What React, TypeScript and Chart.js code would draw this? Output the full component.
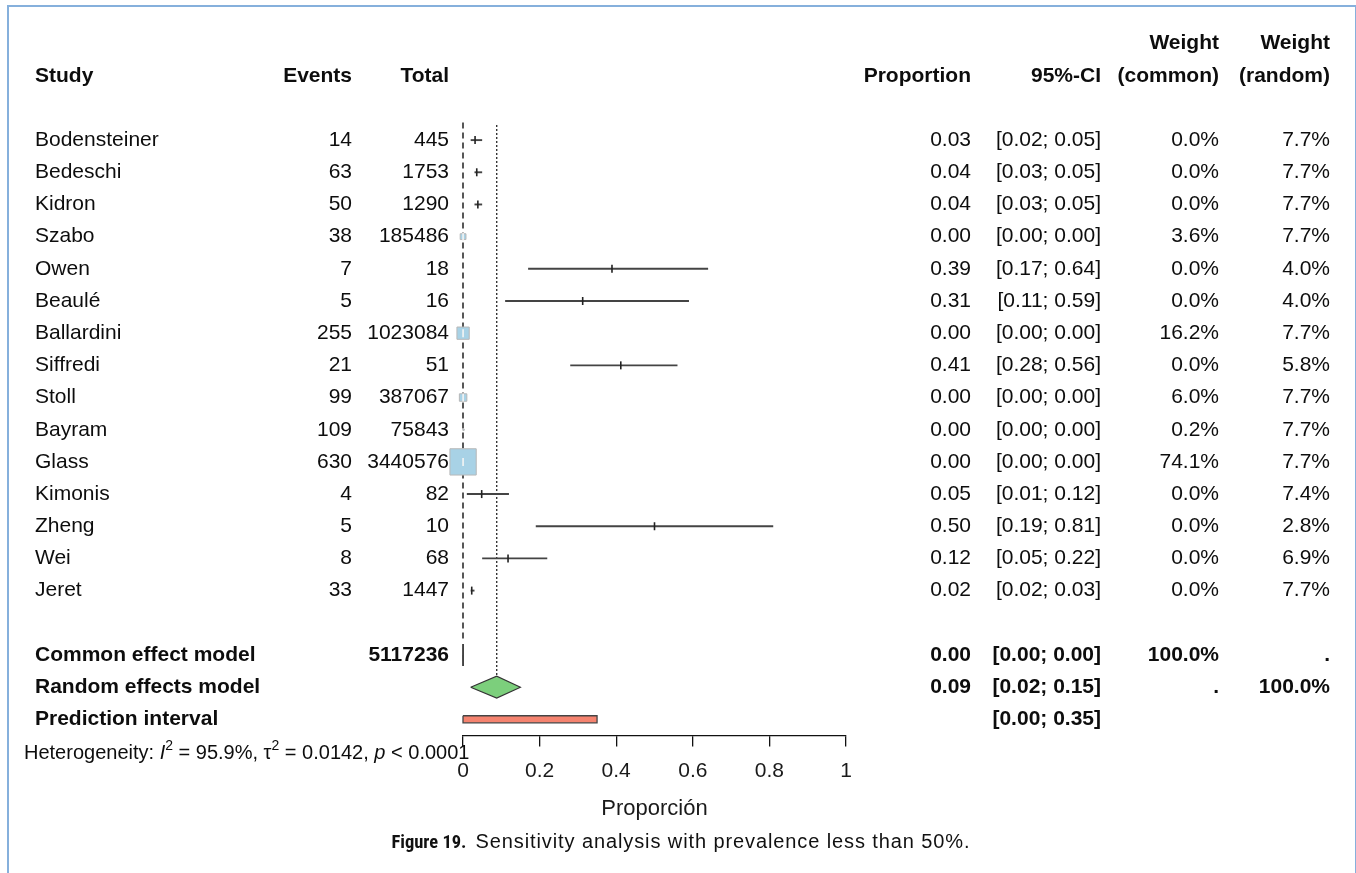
import React, { useEffect, useRef } from "react";
import { Chart, registerables } from "chart.js";

Chart.register(...registerables);

// ---------------- data ----------------
const studies = [
  "Bodensteiner", "Bedeschi", "Kidron", "Szabo", "Owen", "Beaulé", "Ballardini",
  "Siffredi", "Stoll", "Bayram", "Glass", "Kimonis", "Zheng", "Wei", "Jeret",
];
const events = [14, 63, 50, 38, 7, 5, 255, 21, 99, 109, 630, 4, 5, 8, 33];
const totals = [445, 1753, 1290, 185486, 18, 16, 1023084, 51, 387067, 75843, 3440576, 82, 10, 68, 1447];
const proportions = [0.0315, 0.0359, 0.0388, 0.0002, 0.389, 0.3125, 0.0002, 0.412, 0.0003, 0.0014, 0.0002, 0.0488, 0.5, 0.1176, 0.0228];
const ciLower = [0.02, 0.03, 0.03, 0.0, 0.17, 0.11, 0.0, 0.28, 0.0, 0.0, 0.0, 0.01, 0.19, 0.05, 0.02];
const ciUpper = [0.05, 0.05, 0.05, 0.0, 0.64, 0.59, 0.0, 0.56, 0.0, 0.0, 0.0, 0.12, 0.81, 0.22, 0.03];
const weightCommon = [0.0, 0.0, 0.0, 3.6, 0.0, 0.0, 16.2, 0.0, 6.0, 0.2, 74.1, 0.0, 0.0, 0.0, 0.0];
const weightRandom = [7.7, 7.7, 7.7, 7.7, 4.0, 4.0, 7.7, 5.8, 7.7, 7.7, 7.7, 7.4, 2.8, 6.9, 7.7];

const commonTotal = 5117236;
const commonEffect = [0.0002, 0.0, 0.0]; // estimate, lower, upper
const randomEffect = [0.088, 0.02, 0.15];
const predictionInterval = [0.0, 0.35];
const heterogeneity = { i2: "95.9%", tau2: "0.0142", p: "< 0.0001" };

const xTicks = [0, 0.2, 0.4, 0.6, 0.8, 1];
const xTitle = "Proporción";
const caption = "Sensitivity analysis with prevalence less than 50%.";
const captionLabel = "Figure 19.";

// ---------------- layout constants ----------------
const FONT = '"Liberation Sans", Arial, Helvetica, sans-serif';
const ROW_COMMON = 16;
const ROW_RANDOM = 17;
const ROW_PRED = 18;
const COL = {
  study: 35,
  events: 352,
  total: 449,
  prop: 971,
  ci: 1101,
  wCommon: 1219,
  wRandom: 1330,
};

const fmtPct = (v: number) => v.toFixed(1) + "%";
const fmtCI = (lo: number, hi: number) => `[${lo.toFixed(2)}; ${hi.toFixed(2)}]`;

const tablePlugin = {
  id: "forestTable",
  afterDraw(chart: any) {
    const ctx = chart.ctx as CanvasRenderingContext2D;
    const ys = chart.scales.y;
    const y = (r: number) => ys.getPixelForValue(r);
    ctx.save();
    ctx.fillStyle = "#0d0d0d";
    ctx.textBaseline = "middle";
    const txt = (s: string, x: number, r: number, align: CanvasTextAlign, bold = false, size = 21) => {
      ctx.font = `${bold ? "bold " : ""}${size}px ${FONT}`;
      ctx.textAlign = align;
      ctx.fillText(s, x, y(r));
    };
    // headers
    txt("Weight", COL.wCommon, -3, "right", true);
    txt("Weight", COL.wRandom, -3, "right", true);
    txt("Study", COL.study, -2, "left", true);
    txt("Events", COL.events, -2, "right", true);
    txt("Total", COL.total, -2, "right", true);
    txt("Proportion", COL.prop, -2, "right", true);
    txt("95%-CI", COL.ci, -2, "right", true);
    txt("(common)", COL.wCommon, -2, "right", true);
    txt("(random)", COL.wRandom, -2, "right", true);
    // studies
    studies.forEach((s, i) => {
      txt(s, COL.study, i, "left");
      txt(String(events[i]), COL.events, i, "right");
      txt(String(totals[i]), COL.total, i, "right");
      txt(proportions[i].toFixed(2), COL.prop, i, "right");
      txt(fmtCI(ciLower[i], ciUpper[i]), COL.ci, i, "right");
      txt(fmtPct(weightCommon[i]), COL.wCommon, i, "right");
      txt(fmtPct(weightRandom[i]), COL.wRandom, i, "right");
    });
    // summaries
    txt("Common effect model", COL.study, ROW_COMMON, "left", true);
    txt(String(commonTotal), COL.total, ROW_COMMON, "right", true);
    txt(commonEffect[0].toFixed(2), COL.prop, ROW_COMMON, "right", true);
    txt(fmtCI(commonEffect[1], commonEffect[2]), COL.ci, ROW_COMMON, "right", true);
    txt("100.0%", COL.wCommon, ROW_COMMON, "right", true);
    txt(".", COL.wRandom, ROW_COMMON, "right", true);
    txt("Random effects model", COL.study, ROW_RANDOM, "left", true);
    txt(randomEffect[0].toFixed(2), COL.prop, ROW_RANDOM, "right", true);
    txt(fmtCI(randomEffect[1], randomEffect[2]), COL.ci, ROW_RANDOM, "right", true);
    txt(".", COL.wCommon, ROW_RANDOM, "right", true);
    txt("100.0%", COL.wRandom, ROW_RANDOM, "right", true);
    txt("Prediction interval", COL.study, ROW_PRED, "left", true);
    txt(fmtCI(predictionInterval[0], predictionInterval[1]), COL.ci, ROW_PRED, "right", true);

    // heterogeneity line with italics / superscripts
    const base = y(19) + 8;
    let x = 24;
    const piece = (s: string, style: string, size: number, dy = 0) => {
      ctx.font = `${style}${size}px ${FONT}`;
      ctx.textAlign = "left";
      ctx.textBaseline = "alphabetic";
      ctx.fillText(s, x, base + dy);
      x += ctx.measureText(s).width;
    };
    const fs = 20;
    piece("Heterogeneity: ", "", fs);
    piece("I", "italic ", fs);
    piece("2", "", 14, -9);
    piece(" = " + heterogeneity.i2 + ", \u03C4", "", fs);
    piece("2", "", 14, -9);
    piece(" = " + heterogeneity.tau2 + ", ", "", fs);
    piece("p", "italic ", fs);
    piece(" " + heterogeneity.p, "", fs);
    ctx.restore();
  },
};

function polygon(points: { x: number; y: number }[], fill: string, border: string, width: number, order: number) {
  return {
    type: "line",
    data: [...points, points[0]],
    showLine: true,
    borderColor: border,
    borderWidth: width,
    backgroundColor: fill,
    fill: "shape",
    pointRadius: 0,
    tension: 0,
    clip: false,
    order,
  };
}

export default function App() {
  const ref = useRef<HTMLCanvasElement | null>(null);

  useEffect(() => {
    if (!ref.current) return;
    const dh = 0.34; // diamond half-height (rows)
    const ph = 0.11; // prediction bar half-height
    const datasets: any[] = [];

    // reference lines
    datasets.push({
      type: "line",
      data: [{ x: 0, y: -0.55 }, { x: 0, y: 15.6 }],
      borderColor: "#111",
      borderWidth: 1.4,
      borderDash: [6, 4],
      pointRadius: 0,
      fill: false,
      clip: false,
      order: 10,
    });
    datasets.push({
      type: "line",
      data: [{ x: randomEffect[0], y: -0.47 }, { x: randomEffect[0], y: ROW_RANDOM - dh }],
      borderColor: "#333",
      borderWidth: 1.4,
      borderDash: [2, 2],
      pointRadius: 0,
      fill: false,
      clip: false,
      order: 10,
    });

    // CI lines
    studies.forEach((_, i) => {
      datasets.push({
        type: "line",
        data: [{ x: ciLower[i], y: i }, { x: ciUpper[i], y: i }],
        borderColor: "#444",
        borderWidth: 1.9,
        pointRadius: 0,
        fill: false,
        clip: false,
        order: 8,
      });
    });

    // weight squares (common weights)
    const sq = studies.map((_, i) => i).filter((i) => weightCommon[i] > 0);
    datasets.push({
      type: "scatter",
      data: sq.map((i) => ({ x: proportions[i], y: i })),
      pointStyle: "rect",
      pointRadius: sq.map((i) => 18.6 * Math.sqrt(weightCommon[i] / 74.1)),
      pointBackgroundColor: "#a8d2e6",
      pointBorderColor: "#b8b8b8",
      pointBorderWidth: 1,
      clip: false,
      order: 6,
    });

    // point estimate ticks
    datasets.push({
      type: "scatter",
      data: studies.map((_, i) => ({ x: proportions[i], y: i })),
      pointStyle: "line",
      rotation: 90,
      pointRadius: 4,
      pointBorderColor: studies.map((_, i) =>
        weightCommon[i] >= 1 ? "#f4f4f4" : weightCommon[i] > 0 ? "rgba(0,0,0,0)" : "#222"
      ),
      pointBorderWidth: 1.6,
      clip: false,
      order: 4,
    });

    // common effect diamond (degenerate)
    datasets.push(
      polygon(
        [
          { x: commonEffect[1], y: ROW_COMMON },
          { x: commonEffect[0], y: ROW_COMMON - dh },
          { x: commonEffect[2], y: ROW_COMMON },
          { x: commonEffect[0], y: ROW_COMMON + dh },
        ],
        "#a8d2e6",
        "#111",
        1.5,
        2
      )
    );
    // random effects diamond
    datasets.push(
      polygon(
        [
          { x: randomEffect[1], y: ROW_RANDOM },
          { x: randomEffect[0], y: ROW_RANDOM - dh },
          { x: randomEffect[2], y: ROW_RANDOM },
          { x: randomEffect[0], y: ROW_RANDOM + dh },
        ],
        "#7ccf7c",
        "#333",
        1.1,
        2
      )
    );
    // prediction interval bar
    datasets.push(
      polygon(
        [
          { x: predictionInterval[0], y: ROW_PRED - ph },
          { x: predictionInterval[1], y: ROW_PRED - ph },
          { x: predictionInterval[1], y: ROW_PRED + ph },
          { x: predictionInterval[0], y: ROW_PRED + ph },
        ],
        "#f5836f",
        "#444",
        1.3,
        2
      )
    );

    const chart = new Chart(ref.current, {
      type: "line",
      data: { datasets },
      options: {
        animation: false,
        responsive: false,
        devicePixelRatio: 1,
        events: [],
        layout: { autoPadding: false, padding: { left: 463, right: 510, top: 11.4, bottom: 51 } },
        plugins: { legend: { display: false }, tooltip: { enabled: false } },
        scales: {
          x: {
            type: "linear",
            min: 0,
            max: 1,
            afterBuildTicks: (s: any) => {
              s.ticks = xTicks.map((v) => ({ value: v }));
            },
            ticks: {
              color: "#1a1a1a",
              font: { family: FONT, size: 21 },
              padding: 12,
              maxRotation: 0,
              autoSkip: false,
              callback: (v: any) => String(v),
            },
            grid: { drawOnChartArea: false, drawTicks: true, tickLength: 11, color: "#111", lineWidth: 1.3 },
            border: { display: true, color: "#111", width: 1.3 },
            title: {
              display: true,
              text: xTitle,
              color: "#1a1a1a",
              font: { family: FONT, size: 22 },
              padding: { top: 0, bottom: 0 },
            },
          },
          y: { type: "linear", reverse: true, min: -4, max: 18.5, display: false },
        },
      } as any,
      plugins: [tablePlugin],
    });
    return () => chart.destroy();
  }, []);

  return (
    <div style={{ position: "absolute", left: 0, top: 0, width: 1356, height: 873, overflow: "hidden", background: "#fff" }}>
      <div
        style={{
          position: "absolute",
          left: 7,
          top: 5,
          width: 1346,
          height: 900,
          borderLeft: "2px solid #86b0dc",
          borderTop: "2px solid #86b0dc",
          borderRight: "2px solid #86b0dc",
        }}
      />
      <canvas ref={ref} width={1356} height={873} style={{ position: "absolute", left: 0, top: 0, width: 1356, height: 873 }} />
      <div
        style={{
          position: "absolute",
          left: 7,
          width: 1348,
          top: 830,
          textAlign: "center",
          color: "#111",
          whiteSpace: "nowrap",
        }}
      >
        <b style={{ fontFamily: '"Liberation Sans Narrow", "Roboto Condensed", Roboto, sans-serif', fontSize: 18.5 }}>
          {captionLabel}
        </b>
        <span style={{ fontFamily: FONT, fontSize: 20, letterSpacing: 0.9, marginLeft: 9 }}>{caption}</span>
      </div>
    </div>
  );
}
